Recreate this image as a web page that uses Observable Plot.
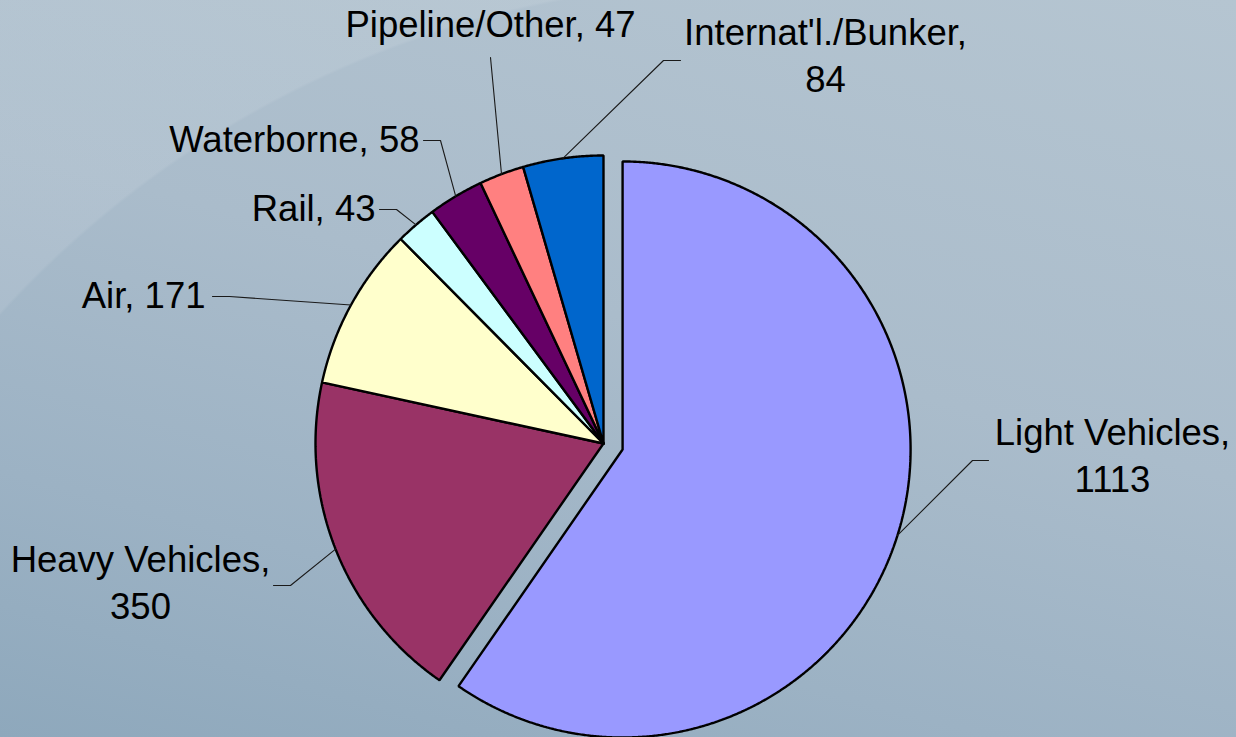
<!DOCTYPE html>
<html>
<head>
<meta charset="utf-8">
<script src="https://cdn.jsdelivr.net/npm/d3@7"></script>
<script src="https://cdn.jsdelivr.net/npm/@observablehq/plot@0.6"></script>
<style>
  html, body { margin: 0; padding: 0; width: 1236px; height: 737px; overflow: hidden; }
  body {
    background:
      radial-gradient(circle 1018px at 752px 998px, rgba(255,255,255,0) 99.7%, rgba(255,255,255,0.09) 100%) 0 0 / 700px 420px no-repeat,
      linear-gradient(195deg, #b5c5d1 0%, #aabccb 45%, #9cb2c4 75%, #8ea8bc 100%);
  }
  #chart svg { display: block; }
</style>
</head>
<body>
<div id="chart"></div>
<script>
// ---- data ----
const categories = ["Light Vehicles", "Heavy Vehicles", "Air", "Rail", "Waterborne", "Pipeline/Other", "Internat'l./Bunker"];
const values = [1113, 350, 171, 43, 58, 47, 84];
const colors = ["#9999FF", "#993366", "#FFFFCC", "#CCFFFF", "#660066", "#FF8080", "#0066CC"];
// Label layout (manually placed labels, pixel positions on the page)
// twoLine: value on second line; ax/ay: text anchor point (cap centre); anchor: text-anchor
// elbow & stub: leader polyline points near the label
const labelLayout = [
  {twoLine: true,  anchor: "middle", ax: 1112, ay: 433, elbow: [972, 460], stub: [988, 460]},
  {twoLine: true,  anchor: "middle", ax: 140,  ay: 560, elbow: [290, 585], stub: [273, 585]},
  {twoLine: false, anchor: "end",    ax: 205,  ay: 296, elbow: [229, 296], stub: [212, 296]},
  {twoLine: false, anchor: "end",    ax: 375,  ay: 209, elbow: [396, 209], stub: [379, 209]},
  {twoLine: false, anchor: "end",    ax: 419,  ay: 140, elbow: [440, 140], stub: [423, 140]},
  {twoLine: false, anchor: "middle", ax: 490,  ay: 25,  elbow: [490, 57],  stub: [490, 57]},
  {twoLine: true,  anchor: "middle", ax: 825,  ay: 33,  elbow: [663, 60],  stub: [680, 60]}
];
const explodeIndex = 0;

// ---- geometry settings ----
const W = 1236, H = 737;
const CX = 603, CY = 443, R = 288;   // pie centre & radius in pixels
const EXPLODE = 20;                  // pixels
const LINE_GAP = 47;                 // px between label lines
const toU = (px, py) => [(px - CX) / R, (py - CY) / R];

const pie = d3.pie().sort(null).value(d => d)(values);

// slice polygons
const slicePts = [];
pie.forEach((a, i) => {
  const mid = (a.startAngle + a.endAngle) / 2;
  const off = i === explodeIndex ? EXPLODE / R : 0;
  const ox = off * Math.sin(mid), oy = -off * Math.cos(mid);
  const cat = categories[i], color = colors[i];
  slicePts.push({cat, color, x: ox, y: oy});
  const n = Math.max(2, Math.ceil((a.endAngle - a.startAngle) / 0.005));
  for (let k = 0; k <= n; k++) {
    const t = a.startAngle + (a.endAngle - a.startAngle) * k / n;
    slicePts.push({cat, color, x: ox + Math.sin(t), y: oy - Math.cos(t)});
  }
  slicePts.push({cat, color, x: ox, y: oy});
});

// leader lines
const leaderPts = [];
pie.forEach((a, i) => {
  const L = labelLayout[i];
  const mid = (a.startAngle + a.endAngle) / 2;
  const off = i === explodeIndex ? EXPLODE / R : 0;
  const ox = off * Math.sin(mid), oy = -off * Math.cos(mid);
  const cat = categories[i];
  leaderPts.push({cat, x: ox + Math.sin(mid), y: oy - Math.cos(mid)});
  const e = toU(...L.elbow), s = toU(...L.stub);
  leaderPts.push({cat, x: e[0], y: e[1]});
  leaderPts.push({cat, x: s[0], y: s[1]});
});

// label texts
const labelRows = [];
categories.forEach((c, i) => {
  const L = labelLayout[i];
  const [ux, uy] = toU(L.ax, L.ay);
  if (L.twoLine) {
    labelRows.push({text: c + ",", x: ux, y: uy, anchor: L.anchor});
    labelRows.push({text: String(values[i]), x: ux, y: uy + LINE_GAP / R, anchor: L.anchor});
  } else {
    labelRows.push({text: c + ", " + values[i], x: ux, y: uy, anchor: L.anchor});
  }
});

const textOpts = {
  x: "x", y: "y", text: "text",
  fontSize: 36.5, fill: "black", lineAnchor: "middle",
  fontFamily: "'Liberation Sans', Arial, sans-serif"
};

const chart = Plot.plot({
  width: W, height: H,
  margin: 0,
  style: {background: "transparent", overflow: "visible"},
  x: {domain: [-1, 1], range: [CX - R, CX + R], axis: null},
  y: {domain: [-1, 1], range: [CY - R, CY + R], axis: null},
  marks: [
    Plot.line(slicePts, {x: "x", y: "y", z: "cat", fill: "color", stroke: "black", strokeWidth: 2.4, strokeLinejoin: "miter", curve: "linear"}),
    Plot.line(leaderPts, {x: "x", y: "y", z: "cat", stroke: "#1a1a1a", strokeWidth: 1.1, curve: "linear"}),
    Plot.text(labelRows.filter(d => d.anchor === "middle"), {...textOpts, textAnchor: "middle"}),
    Plot.text(labelRows.filter(d => d.anchor === "end"), {...textOpts, textAnchor: "end"})
  ]
});
document.getElementById("chart").appendChild(chart);
</script>
</body>
</html>
